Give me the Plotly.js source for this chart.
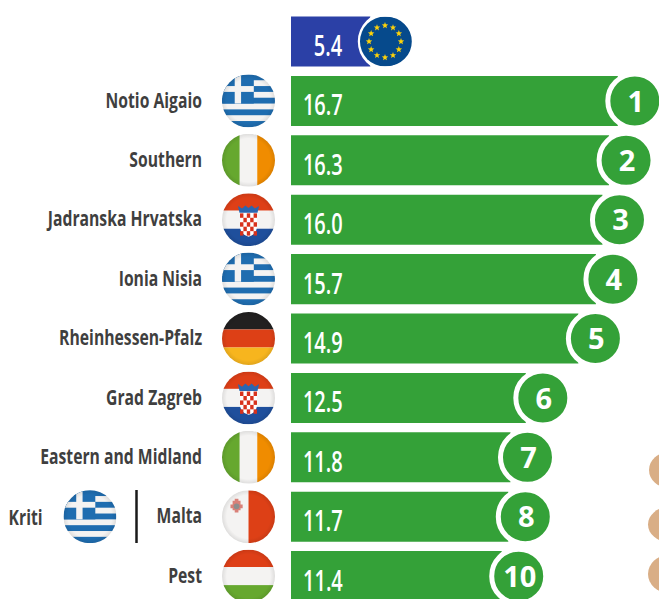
<!DOCTYPE html>
<html>
<head>
<meta charset="utf-8">
<script src="https://cdn.plot.ly/plotly-3.0.1.min.js"></script>
<style>html,body{margin:0;padding:0;background:#fff;overflow:hidden}</style>
</head>
<body>
<div id="chart" style="width:659px;height:599px"></div>
<script>
const regions = ["EU","Notio Aigaio","Southern","Jadranska Hrvatska","Ionia Nisia","Rheinhessen-Pfalz","Grad Zagreb","Eastern and Midland","Malta","Pest"];
const tickLabels = ["","Notio Aigaio","Southern","Jadranska Hrvatska","Ionia Nisia","Rheinhessen-Pfalz","Grad Zagreb","Eastern and Midland","Malta","Pest"];
const values = [5.4,16.7,16.3,16.0,15.7,14.9,12.5,11.8,11.7,11.4];
const ranks = ["","1","2","3","4","5","6","7","8","10"];
const flagCodes = ["","gr","ie","hr","gr","de","hr","ie","mt","hu"];
const barColors = ["#2b40a6","#34a138","#34a138","#34a138","#34a138","#34a138","#34a138","#34a138","#34a138","#34a138"];

const W = 659, H = 599, PL = 291;
const pxW = W - PL;
const px = v => (v - PL) / pxW;
const py = v => 1 - v / H;
const rowY = i => 41.5 + 59.4 * i;
const badgeOffset = 0.776;

const shade = `<defs><radialGradient id="s" cx="50%" cy="50%" r="50%"><stop offset="82%" stop-color="#000" stop-opacity="0"/><stop offset="100%" stop-color="#000" stop-opacity="0.09"/></radialGradient><clipPath id="c"><circle cx="50" cy="50" r="50"/></clipPath></defs>`;
const star = (x,y,r) => {
  let p = [];
  for (let k = 0; k < 10; k++) {
    const a = -Math.PI/2 + k*Math.PI/5, q = k%2 ? r*0.42 : r;
    p.push((x+q*Math.cos(a)).toFixed(2)+","+(y+q*Math.sin(a)).toFixed(2));
  }
  return `<polygon points="${p.join(" ")}" fill="#fdd20a"/>`;
};
function checker(){
  let s = `<path d="M34 38H66V62Q66 78 50 82Q34 78 34 62Z" fill="#fff"/>`;
  for (let r = 0; r < 5; r++) for (let c = 0; c < 5; c++) {
    if ((r+c)%2===0) {
      const x = 34+c*6.4, y = 38+r*8.4;
      s += `<rect x="${x}" y="${y}" width="6.4" height="8.4" fill="#d8311c"/>`;
    }
  }
  s += `<path d="M30 24L38 29L44 23L50 28L56 23L62 29L70 24L67 37H33Z" fill="#2b66b0"/>`;
  return s;
}
const flagArt = {
  gr: `<rect width="100" height="100" fill="#f4f3f2"/>
       <rect y="0" width="100" height="11" fill="#1f6db0"/><rect y="22" width="100" height="11" fill="#1f6db0"/>
       <rect y="44" width="100" height="11" fill="#1f6db0"/><rect y="66" width="100" height="11" fill="#1f6db0"/><rect y="88" width="100" height="12" fill="#1f6db0"/>
       <rect width="60" height="55" fill="#1f6db0"/><rect x="24" width="12" height="55" fill="#f4f3f2"/><rect y="22" width="60" height="11" fill="#f4f3f2"/>`,
  ie: `<rect width="33.5" height="100" fill="#66a82f"/><rect x="33.5" width="33" height="100" fill="#f4f3f2"/><rect x="66.5" width="33.5" height="100" fill="#f08c00"/>`,
  hr: `<rect width="100" height="33" fill="#de3f17"/><rect y="33" width="100" height="34" fill="#f4f3f2"/><rect y="67" width="100" height="33" fill="#1f4f9c"/>` + checker(),
  de: `<rect width="100" height="33" fill="#222020"/><rect y="33" width="100" height="34" fill="#dd4016"/><rect y="67" width="100" height="33" fill="#f7b51e"/>`,
  mt: `<rect width="50" height="100" fill="#f4f3f2"/><rect x="50" width="50" height="100" fill="#dd4016"/>
       <path d="M24 20H31V24H35V31H39V38H35V42H31V46H24V42H20V38H16V31H20V24H24Z" fill="#d98078" transform="translate(0,-4)"/><circle cx="27.5" cy="30.5" r="5.5" fill="#8d8d8d"/>`,
  hu: `<rect width="100" height="33" fill="#de3f17"/><rect y="33" width="100" height="34" fill="#f4f3f2"/><rect y="67" width="100" height="33" fill="#66a82f"/>`,
  eu: (() => {
    let s = `<rect width="100" height="100" fill="#064a8c"/>`;
    for (let k = 0; k < 12; k++) {
      const a = k*Math.PI/6;
      s += star(50+32*Math.sin(a), 50-32*Math.cos(a), 6.8);
    }
    return s;
  })()
};
const flagUri = (code, shaded) => "data:image/svg+xml;charset=utf-8," + encodeURIComponent(
  `<svg xmlns="http://www.w3.org/2000/svg" width="200" height="200" viewBox="0 0 100 100">${shade}<g clip-path="url(#c)">${flagArt[code]}${shaded ? '<rect width="100" height="100" fill="url(#s)"/>' : ''}</g></svg>`);
const flagImage = (code, cx, cy, d, shaded) => ({
  source: flagUri(code, shaded), xref: "paper", yref: "paper",
  x: px(cx), y: py(cy), sizex: d/pxW, sizey: d/H,
  xanchor: "center", yanchor: "middle", sizing: "stretch", layer: "above"
});

const images = [];
flagCodes.forEach((c, i) => { if (c) images.push(flagImage(c, 248.5, rowY(i), 53, true)); });
images.push(flagImage("gr", 90, rowY(8), 53, true));
images.push(flagImage("eu", 385, rowY(0), 50, false));

const labelFont = {family: '"Open Sans", sans-serif', size: 22, color: "#3f3f3f", weight: 700};
const valueFont = {family: '"Open Sans", sans-serif', size: 29, color: "#ffffff", weight: 600};

const bars = {
  type: "bar", orientation: "h", y: regions, x: values, width: 0.842,
  marker: {color: barColors, line: {width: 0}}, hoverinfo: "skip"
};
const badges = {
  type: "scatter", mode: "markers+text", y: regions, x: values.map(v => v + badgeOffset),
  text: ranks, textposition: "middle center",
  textfont: {family: '"Noto Sans", sans-serif', size: 29, color: "#fff", weight: 700},
  marker: {size: 54, color: barColors.map((c,i) => i ? c : "#064a8c"), line: {color: "#ffffff", width: 5}},
  cliponaxis: false, hoverinfo: "skip"
};

const annotations = values.map((v, i) => ({
  xref: "paper", yref: "paper", x: px(344), y: py(rowY(i) + 3),
  xanchor: "right", yanchor: "middle", text: v.toFixed(1), showarrow: false, font: valueFont, borderpad: 0
}));
annotations.push({xref: "paper", yref: "paper", x: px(44), y: py(rowY(8) - 1), xanchor: "right", yanchor: "middle",
  text: "Kriti", showarrow: false, font: labelFont, borderpad: 0});

const blob = (x0, y0, x1, y1) => ({type: "circle", xref: "paper", yref: "paper",
  x0: px(x0), x1: px(x1), y0: py(y0), y1: py(y1), fillcolor: "#d9ae86", line: {width: 0}, layer: "below"});

const layout = {
  width: W, height: H, showlegend: false, paper_bgcolor: "#fff", plot_bgcolor: "rgba(0,0,0,0)",
  margin: {l: PL, r: 0, t: 0, b: 0, pad: 0},
  xaxis: {range: [1.78, 18.58], visible: false, fixedrange: true},
  yaxis: {type: "category", categoryorder: "array", categoryarray: regions, range: [9.385, -0.699],
    tickmode: "array", tickvals: regions, ticktext: tickLabels, ticks: "", showgrid: false, zeroline: false, showline: false,
    tickfont: labelFont, ticklabelstandoff: 89, fixedrange: true},
  images, annotations,
  shapes: [
    {type: "line", xref: "paper", yref: "paper", x0: px(136.5), x1: px(136.5), y0: py(490), y1: py(543), line: {color: "#1a1a1a", width: 2.5}},
    blob(649, 452, 690, 488), blob(648, 507, 690, 542), blob(648, 555, 690, 593)
  ]
};

// The reference uses a condensed face that is not installed: squeeze real text horizontally about its right end.
function squeeze(el, s, dx, dy) {
  const b = el.getBBox(), ax = b.x + b.width, old = el.getAttribute("transform") || "";
  el.setAttribute("transform", `${old} translate(${ax + (dx||0)} ${dy||0}) scale(${s} 1) translate(${-ax} 0)`);
}
const labelSqueeze = 0.715, valueSqueeze = 0.69;
Plotly.newPlot("chart", [bars, badges], layout, {displayModeBar: false, staticPlot: true}).then(gd => {
  const run = () => {
    gd.querySelectorAll(".ytick text").forEach(t => squeeze(t, labelSqueeze, 1, -1));
    gd.querySelectorAll(".annotation-text").forEach(t => {
      squeeze(t, t.textContent === "Kriti" ? labelSqueeze : valueSqueeze);
    });
    gd.querySelectorAll(".textpoint text").forEach(t => {
      const old = t.getAttribute("transform") || "";
      t.setAttribute("transform", `translate(1 3.5) ${old}`);
    });
  };
  (document.fonts && document.fonts.ready ? document.fonts.ready : Promise.resolve()).then(run);
});
</script>
</body>
</html>
